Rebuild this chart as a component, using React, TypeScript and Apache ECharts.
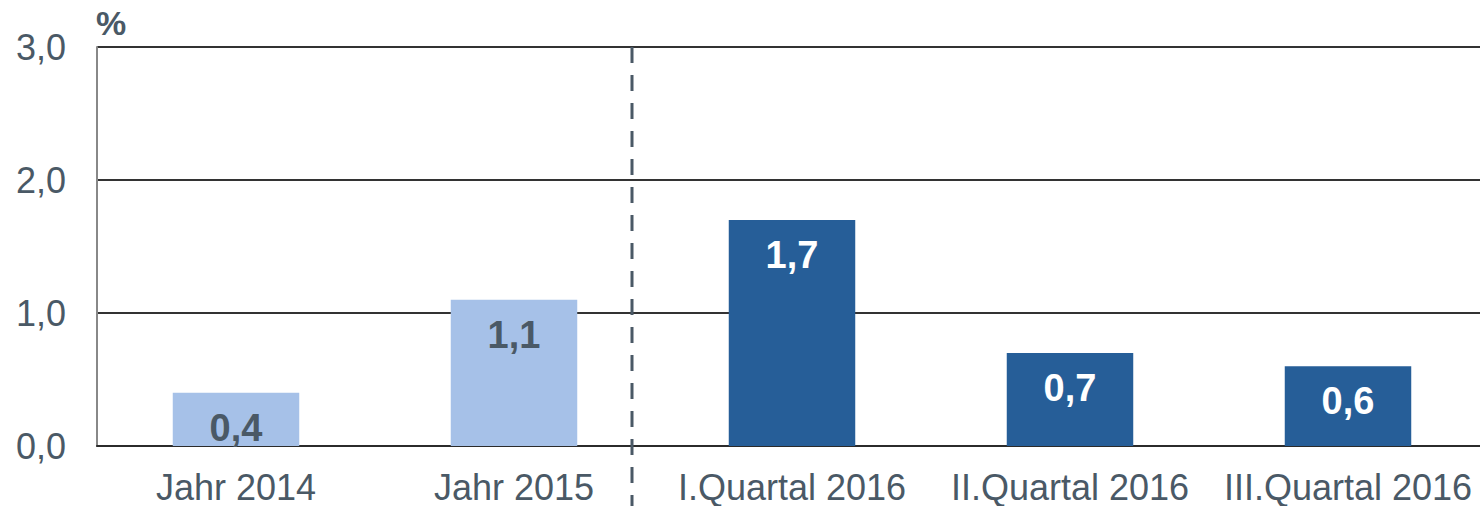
import React, { useEffect, useRef } from "react";
import * as echarts from "echarts";

const categories = ["Jahr 2014", "Jahr 2015", "I.Quartal 2016", "II.Quartal 2016", "III.Quartal 2016"];
const values = [0.4, 1.1, 1.7, 0.7, 0.6];
const isYear = [true, true, false, false, false];
const yTicks = [0, 1, 2, 3];

const TEXT = "#4a5966";
const LIGHT = "#a6c1e8";
const DARK = "#265e98";
const FONT = "'Liberation Sans', Arial, sans-serif";

export default function App() {
  const ref = useRef<HTMLDivElement>(null);
  useEffect(() => {
    if (!ref.current) return;
    const chart = echarts.init(ref.current, undefined, { renderer: "svg" });
    chart.setOption({
      animation: false,
      textStyle: { fontFamily: FONT },
      grid: { left: 97, right: -7, top: 47, bottom: 60, containLabel: false, outerBoundsMode: "none" },
      xAxis: {
        type: "category",
        data: categories,
        axisTick: { show: false },
        axisLine: { lineStyle: { color: "#2b2b2b", width: 2 } },
        axisLabel: {
          color: TEXT,
          fontSize: 36,
          lineHeight: 29,
          margin: 27,
          interval: 0,
          hideOverlap: false,
          fontFamily: FONT,
        },
      },
      yAxis: {
        type: "value",
        min: yTicks[0],
        max: yTicks[yTicks.length - 1],
        interval: 1,
        axisLine: { show: true, lineStyle: { color: "#888888", width: 2 } },
        axisTick: { show: false },
        splitLine: { lineStyle: { color: "#333333", width: 2 } },
        axisLabel: {
          color: TEXT,
          fontSize: 36,
          margin: 31,
          fontFamily: FONT,
          formatter: (v: number) => v.toFixed(1).replace(".", ","),
        },
      },
      graphic: [
        {
          type: "text",
          left: 96,
          top: 6,
          style: { text: "%", fill: TEXT, font: `bold 34px ${FONT}` },
        },
        {
          type: "line",
          shape: { x1: 632, y1: 47, x2: 632, y2: 506 },
          style: { stroke: TEXT, lineWidth: 3, lineDash: [16, 12] },
          z: 10,
        },
      ],
      series: [
        {
          type: "bar",
          barWidth: "45.5%",
          data: values.map((v, i) => ({
            value: v,
            itemStyle: { color: isYear[i] ? LIGHT : DARK },
            label: { color: isYear[i] ? TEXT : "#ffffff" },
          })),
          label: {
            show: true,
            position: "insideTop",
            distance: 16,
            fontSize: 38,
            fontWeight: "bold",
            fontFamily: FONT,
            formatter: (p: any) => p.value.toFixed(1).replace(".", ","),
          },
        },
      ],
    });
    return () => chart.dispose();
  }, []);
  return <div ref={ref} style={{ width: 1480, height: 506, position: "absolute", left: 0, top: 0 }} />;
}
